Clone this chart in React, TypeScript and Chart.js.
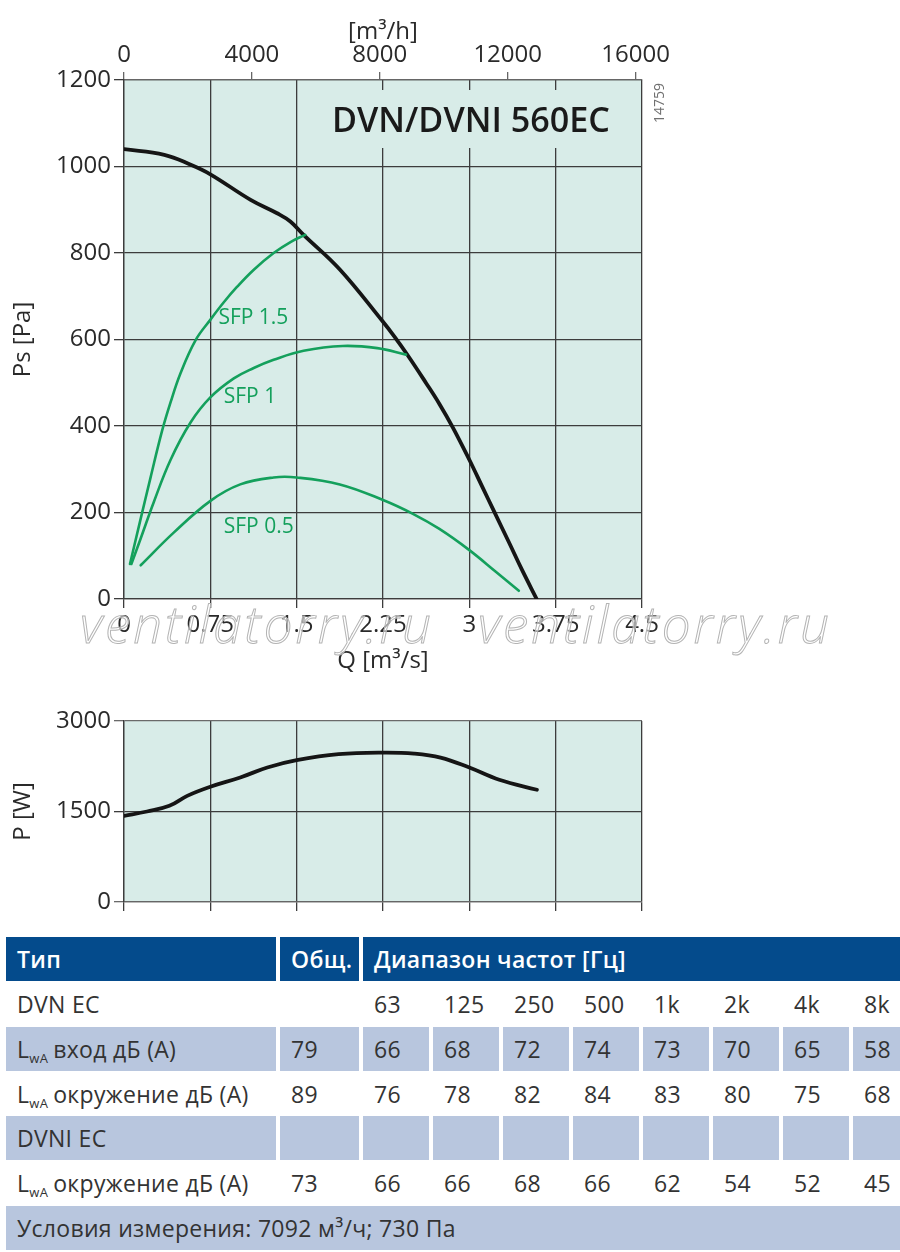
import React, { useEffect, useRef } from "react";
import { Chart, registerables } from "chart.js";

Chart.register(...registerables);

// ---------- data ----------
const Q_TICKS = [0, 0.75, 1.5, 2.25, 3, 3.75, 4.5];
const Q_TICK_LABELS = ["0", "0.75", "1.5", "2.25", "3", "3.75", "4.5"];
const QH_TICKS = [0, 4000, 8000, 12000, 16000];
const PS_TICKS = [0, 200, 400, 600, 800, 1000, 1200];
const P_TICKS = [0, 1500, 3000];

const FAN_Q = [0, 0.35, 0.58, 0.75, 1.1, 1.33, 1.445, 1.56, 1.875, 2.25, 2.351, 2.466, 2.625, 2.74, 2.856, 3.0, 3.115, 3.216, 3.346, 3.46, 3.585];
const FAN_PS = [1040, 1027, 1004, 982, 923, 892, 873, 842, 762, 641, 606, 563, 499, 451, 397, 322, 258, 202, 130, 66, 0];

const SFP15_Q = [0.052, 0.14, 0.23, 0.33, 0.405, 0.491, 0.621, 0.751, 0.867, 0.983, 1.13, 1.3, 1.45, 1.575];
const SFP15_PS = [81, 180, 280, 388, 455, 522, 598, 646, 686, 722, 762, 800, 826, 842];

const SFP1_Q = [0.064, 0.145, 0.26, 0.405, 0.578, 0.75, 0.954, 1.127, 1.3, 1.56, 1.9, 2.2, 2.45];
const SFP1_PS = [81, 140, 225, 322, 408, 466, 510, 534, 553, 574, 585, 580, 565];

const SFP05_Q = [0.145, 0.434, 0.751, 1.01, 1.3, 1.5, 1.875, 2.25, 2.51, 2.74, 3.0, 3.23, 3.43];
const SFP05_PS = [78, 154, 227, 265, 281, 281, 265, 229, 197, 162, 113, 63, 19];

const POWER_Q = [0, 0.2, 0.394, 0.549, 0.75, 1.01, 1.245, 1.5, 1.864, 2.25, 2.52, 2.75, 3.0, 3.26, 3.587];
const POWER_W = [1428, 1500, 1594, 1759, 1910, 2064, 2229, 2350, 2450, 2477, 2460, 2394, 2229, 2026, 1860];

const SFP_LABELS = ["SFP 1.5", "SFP 1", "SFP 0.5"];
const SFP_LABEL_Q = [0.82, 0.866, 0.866];
const SFP_LABEL_PS = [650, 468, 166];

const MODEL_TITLE = "DVN/DVNI 560EC";
const DRAWING_NO = "14759";

const FREQ_BANDS = ["63", "125", "250", "500", "1k", "2k", "4k", "8k"];
const DVN_INLET_TOTAL = "79";
const DVN_INLET = ["66", "68", "72", "74", "73", "70", "65", "58"];
const DVN_SURROUND_TOTAL = "89";
const DVN_SURROUND = ["76", "78", "82", "84", "83", "80", "75", "68"];
const DVNI_SURROUND_TOTAL = "73";
const DVNI_SURROUND = ["66", "66", "68", "66", "62", "54", "52", "45"];

// ---------- styles ----------
const FONT = '"Open Sans", "DejaVu Sans", sans-serif';
const TEXT = "#2a2a2a";
const PLOT_BG = "#d8ece8";
const GRID = "#3c3c3c";
const GREEN = "#14a05c";
const BLACK = "#151515";
const HEADER_BLUE = "#044b8c";
const LIGHT = "#b8c6de";
const TENSION = 0.4;

const pts = (xs: number[], ys: number[]) => xs.map((x, i) => ({ x, y: ys[i] }));

const bgPlugin = {
  id: "plotBg",
  beforeDraw(chart: any) {
    const { ctx, chartArea } = chart;
    ctx.save();
    ctx.fillStyle = PLOT_BG;
    ctx.fillRect(chartArea.left, chartArea.top, chartArea.right - chartArea.left, chartArea.bottom - chartArea.top);
    ctx.restore();
  },
};

const titlePlugin = {
  id: "modelTitle",
  beforeDatasetsDraw(chart: any) {
    const { ctx, chartArea } = chart;
    ctx.save();
    ctx.fillStyle = PLOT_BG;
    ctx.fillRect(chartArea.left + 202, chartArea.top + 10, 294, 58);
    ctx.font = `600 35px ${FONT}`;
    ctx.fillStyle = "#1a1a1a";
    ctx.textBaseline = "alphabetic";
    ctx.textAlign = "left";
    ctx.fillText(MODEL_TITLE, chartArea.left + 208, chartArea.top + 52, 278);
    ctx.translate(chartArea.right + 18, chartArea.top + 23);
    ctx.rotate(-Math.PI / 2);
    ctx.font = `14px ${FONT}`;
    ctx.fillStyle = "#707070";
    ctx.textAlign = "center";
    ctx.textBaseline = "middle";
    ctx.fillText(DRAWING_NO, 0, 0);
    ctx.restore();
  },
};

const sfpLabelPlugin = {
  id: "sfpLabels",
  afterDatasetsDraw(chart: any) {
    const { ctx, scales } = chart;
    ctx.save();
    ctx.font = `21px ${FONT}`;
    ctx.fillStyle = GREEN;
    ctx.textAlign = "left";
    ctx.textBaseline = "middle";
    SFP_LABELS.forEach((t, i) => {
      ctx.fillText(t, scales.x.getPixelForValue(SFP_LABEL_Q[i]), scales.y.getPixelForValue(SFP_LABEL_PS[i]));
    });
    ctx.restore();
  },
};

const tickFont = { family: FONT, size: 24 };
const titleFont = { family: FONT, size: 24 };

const line = (data: any[], color: string, width: number) => ({
  data,
  borderColor: color,
  borderWidth: width,
  showLine: true,
  pointRadius: 0,
  tension: TENSION,
  borderCapStyle: "round",
  borderJoinStyle: "round",
});

function PressureChart() {
  const ref = useRef<HTMLCanvasElement>(null);
  useEffect(() => {
    const chart = new Chart(ref.current as HTMLCanvasElement, {
      type: "scatter",
      data: {
        datasets: [
          line(pts(SFP15_Q, SFP15_PS), GREEN, 2.6),
          line(pts(SFP1_Q, SFP1_PS), GREEN, 2.6),
          line(pts(SFP05_Q, SFP05_PS), GREEN, 2.6),
          line(pts(FAN_Q, FAN_PS), BLACK, 3.8),
        ],
      },
      options: {
        animation: false,
        responsive: false,
        events: [],
        layout: { padding: { left: 0, right: 58, top: 0, bottom: 0 } },
        plugins: { legend: { display: false }, tooltip: { enabled: false } },
        scales: {
          x: {
            type: "linear",
            position: "bottom",
            min: 0,
            max: 4.5,
            afterBuildTicks: (s: any) => { s.ticks = Q_TICKS.map((v) => ({ value: v })); },
            afterFit: (s: any) => { s.height = 81; },
            ticks: {
              autoSkip: false,
              maxRotation: 0,
              padding: 3,
              font: tickFont,
              color: TEXT,
              callback: (v: any) => Q_TICK_LABELS[Q_TICKS.indexOf(Number(v))] ?? "",
            },
            grid: { color: GRID, lineWidth: 1.3, tickLength: 9 },
            border: { color: GRID, width: 1.3 },
            title: { display: true, text: "Q [m³/s]", font: titleFont, color: TEXT, padding: { top: 0, bottom: 4 } },
          },
          x2: {
            type: "linear",
            position: "top",
            min: 0,
            max: 16200,
            afterBuildTicks: (s: any) => { s.ticks = QH_TICKS.map((v) => ({ value: v })); },
            afterFit: (s: any) => { s.height = 80; },
            ticks: { autoSkip: false, maxRotation: 0, padding: 2, font: tickFont, color: TEXT, callback: (v: any) => String(v) },
            grid: { drawOnChartArea: false, color: "#666", lineWidth: 1.3, tickLength: 8 },
            border: { color: "#666", width: 1.3 },
            title: { display: true, text: "[m³/h]", font: titleFont, color: TEXT, padding: { top: 18, bottom: 0 } },
          },
          y: {
            type: "linear",
            min: 0,
            max: 1200,
            afterBuildTicks: (s: any) => { s.ticks = PS_TICKS.map((v) => ({ value: v })); },
            afterFit: (s: any) => { s.width = 124; },
            ticks: { padding: 3, font: tickFont, color: TEXT, callback: (v: any) => String(v) },
            grid: { color: GRID, lineWidth: 1.3, tickLength: 10 },
            border: { color: GRID, width: 1.3 },
            title: { display: true, text: "Ps [Pa]", font: titleFont, color: TEXT, padding: { top: 9, bottom: 0 } },
          },
        },
      },
      plugins: [bgPlugin, titlePlugin, sfpLabelPlugin],
    } as any);
    return () => chart.destroy();
  }, []);
  return <canvas ref={ref} width={700} height={680} style={{ position: "absolute", left: 0, top: 0, width: 700, height: 680 }} />;
}

function PowerChart() {
  const ref = useRef<HTMLCanvasElement>(null);
  useEffect(() => {
    const chart = new Chart(ref.current as HTMLCanvasElement, {
      type: "scatter",
      data: {
        datasets: [line(pts(POWER_Q, POWER_W), BLACK, 3.8)],
      },
      options: {
        animation: false,
        responsive: false,
        events: [],
        layout: { padding: { left: 0, right: 58, top: 31, bottom: 0 } },
        plugins: { legend: { display: false }, tooltip: { enabled: false } },
        scales: {
          x: {
            type: "linear",
            min: 0,
            max: 4.5,
            afterBuildTicks: (s: any) => { s.ticks = Q_TICKS.map((v) => ({ value: v })); },
            afterFit: (s: any) => { s.height = 18; },
            ticks: { display: false },
            grid: { color: GRID, lineWidth: 1.3, tickLength: 9 },
            border: { color: "#666", width: 1.3 },
          },
          y: {
            type: "linear",
            min: 0,
            max: 3000,
            afterBuildTicks: (s: any) => { s.ticks = P_TICKS.map((v) => ({ value: v })); },
            afterFit: (s: any) => { s.width = 124; },
            ticks: { padding: 3, font: tickFont, color: TEXT, callback: (v: any) => String(v) },
            grid: {
              color: (c: any) => (c.tick && c.tick.value === 1500 ? GRID : "#6a6a6a"),
              lineWidth: 1.3,
              tickLength: 10,
            },
            border: { color: GRID, width: 1.3 },
            title: { display: true, text: "P [W]", font: titleFont, color: TEXT, padding: { top: 9, bottom: 0 } },
          },
        },
      },
      plugins: [bgPlugin],
    } as any);
    return () => chart.destroy();
  }, []);
  return <canvas ref={ref} width={700} height={230} style={{ position: "absolute", left: 0, top: 690, width: 700, height: 230 }} />;
}

const Lwa = () => (
  <span>
    L<span style={{ fontSize: 13, position: "relative", top: 5, marginRight: 5 }}>wA</span>
  </span>
);

function Cell({ children, bg, span, header }: { children?: any; bg?: string; span?: string; header?: boolean }) {
  return (
    <div
      style={{
        background: bg || "transparent",
        gridColumn: span,
        display: "flex",
        alignItems: "center",
        paddingLeft: 11,
        whiteSpace: "nowrap",
        color: header ? "#ffffff" : "#333333",
        fontWeight: header ? 600 : 400,
        overflow: "hidden",
      }}
    >
      {children}
    </div>
  );
}

function NoiseTable() {
  const row = (label: any, total: string, vals: string[], bg?: string) => [
    <Cell key="l" bg={bg}>{label}</Cell>,
    <Cell key="t" bg={bg}>{total}</Cell>,
    ...vals.map((v, i) => <Cell key={i} bg={bg}>{v}</Cell>),
  ];
  return (
    <div style={{ position: "absolute", left: 6, top: 937, width: 894, height: 313, overflow: "hidden" }}>
      <div
        style={{
          display: "grid",
          gridTemplateColumns: "270px 79px repeat(8, 66px)",
          gridTemplateRows: "44px 46px 44px 45px 44px 46px 44px",
          columnGap: 4,
          width: 913,
          fontFamily: FONT,
          fontSize: 23,
          letterSpacing: 0.3,
        }}
      >
        <Cell bg={HEADER_BLUE} header>Тип</Cell>
        <Cell bg={HEADER_BLUE} header>Общ.</Cell>
        <Cell bg={HEADER_BLUE} header span="3 / span 8">Диапазон частот [Гц]</Cell>
        {row("DVN EC", "", FREQ_BANDS)}
        {row(<><Lwa />вход дБ (A)</>, DVN_INLET_TOTAL, DVN_INLET, LIGHT)}
        {row(<><Lwa />окружение дБ (A)</>, DVN_SURROUND_TOTAL, DVN_SURROUND)}
        {row("DVNI EC", "", FREQ_BANDS.map(() => ""), LIGHT)}
        {row(<><Lwa />окружение дБ (A)</>, DVNI_SURROUND_TOTAL, DVNI_SURROUND)}
        <Cell bg={LIGHT} span="1 / span 10">Условия измерения: 7092 м³/ч; 730 Па</Cell>
      </div>
    </div>
  );
}

const watermarkStyle: any = {
  position: "absolute",
  top: 598,
  fontFamily: FONT,
  fontStyle: "italic",
  fontWeight: 300,
  fontSize: 51,
  letterSpacing: 3,
  lineHeight: 1,
  color: "rgba(255,255,255,0.55)",
  WebkitTextStroke: "1px #b4b4b4",
  whiteSpace: "nowrap",
  pointerEvents: "none",
};

export default function App() {
  useEffect(() => {
    document.body.style.margin = "0";
  }, []);
  return (
    <div style={{ position: "relative", width: 900, height: 1252, background: "#fff", overflow: "hidden" }}>
      <PressureChart />
      <PowerChart />
      <div style={{ ...watermarkStyle, left: 80 }}>ventilatorry.ru</div>
      <div style={{ ...watermarkStyle, left: 478 }}>ventilatorry.ru</div>
      <NoiseTable />
    </div>
  );
}
